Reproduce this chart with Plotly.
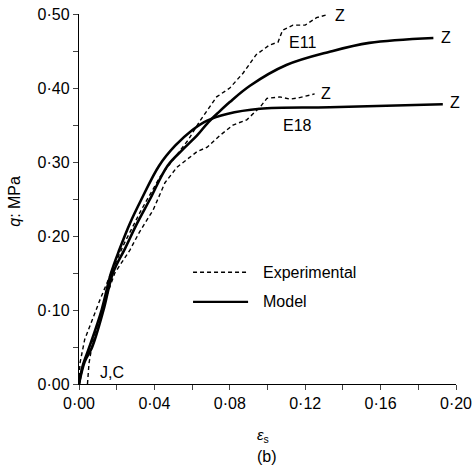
import plotly.graph_objects as go

# Model curves
model_e11_x = [0.0, 0.003, 0.007, 0.013, 0.018, 0.0244, 0.031, 0.0375, 0.047, 0.0555, 0.063, 0.068, 0.074, 0.080, 0.0907, 0.110, 0.133, 0.154, 0.188]
model_e11_y = [0.0, 0.03, 0.05, 0.10, 0.15, 0.183, 0.218, 0.249, 0.295, 0.318, 0.337, 0.352, 0.367, 0.381, 0.403, 0.431, 0.449, 0.461, 0.4676]

model_e18_x = [0.0, 0.002, 0.0055, 0.012, 0.017, 0.0215, 0.027, 0.033, 0.0425, 0.051, 0.060, 0.068, 0.0785, 0.096, 0.133, 0.193]
model_e18_y = [0.0, 0.025, 0.05, 0.10, 0.15, 0.182, 0.217, 0.249, 0.295, 0.322, 0.343, 0.356, 0.365, 0.372, 0.374, 0.378]

# Experimental curves
exp_e11_x = [0.0, 0.0005, 0.003, 0.007, 0.011, 0.017, 0.024, 0.033, 0.043, 0.052, 0.058, 0.064, 0.073, 0.080, 0.087, 0.094, 0.101, 0.1056, 0.108, 0.1135, 0.120, 0.126, 0.1316]
exp_e11_y = [0.0, 0.028, 0.06, 0.087, 0.113, 0.15, 0.19, 0.235, 0.28, 0.31, 0.33, 0.355, 0.388, 0.40, 0.42, 0.445, 0.458, 0.462, 0.478, 0.485, 0.485, 0.495, 0.499]

exp_e18_x = [0.0045, 0.0053, 0.0075, 0.012, 0.019, 0.027, 0.032, 0.0393, 0.0456, 0.052, 0.0626, 0.068, 0.0748, 0.0817, 0.089, 0.096, 0.0997, 0.1066, 0.112, 0.117, 0.125]
exp_e18_y = [0.0, 0.028, 0.06, 0.10, 0.15, 0.181, 0.205, 0.235, 0.272, 0.293, 0.314, 0.32, 0.336, 0.35, 0.357, 0.374, 0.386, 0.388, 0.385, 0.387, 0.392]

x_ticks = [0.0, 0.04, 0.08, 0.12, 0.16, 0.20]
x_ticklabels = ["0·00", "0·04", "0·08", "0·12", "0·16", "0·20"]
y_ticks = [0.0, 0.1, 0.2, 0.3, 0.4, 0.5]
y_ticklabels = ["0·00", "0·10", "0·20", "0·30", "0·40", "0·50"]

FONT = "Liberation Sans, Arial, sans-serif"
FS = 16
dash_style = dict(color="black", width=1.4, dash="4px,3px")
solid_style = dict(color="black", width=2.6)

fig = go.Figure()
for xs, ys in [(exp_e11_x, exp_e11_y), (exp_e18_x, exp_e18_y)]:
    fig.add_trace(go.Scatter(x=xs, y=ys, mode="lines", line=dash_style, line_shape="linear", showlegend=False))
for xs, ys in [(model_e11_x, model_e11_y), (model_e18_x, model_e18_y)]:
    fig.add_trace(go.Scatter(x=xs, y=ys, mode="lines", line=solid_style, line_shape="spline", showlegend=False))

# Legend samples
fig.add_trace(go.Scatter(x=[0.0605, 0.0897], y=[0.151, 0.151], mode="lines", line=dash_style, showlegend=False))
fig.add_trace(go.Scatter(x=[0.0605, 0.0897], y=[0.111, 0.111], mode="lines", line=dict(color="black", width=2.4), showlegend=False))

ann = []
def label(x, y, text, size=FS, xanchor="left"):
    ann.append(dict(x=x, y=y, text=text, showarrow=False, xanchor=xanchor, yanchor="middle",
                    font=dict(family=FONT, size=size, color="black")))

label(0.0963, 0.151, "Experimental")
label(0.0963, 0.111, "Model")
label(0.1345, 0.4986, "Z")
label(0.1912, 0.4676, "Z")
label(0.1275, 0.393, "Z")
label(0.196, 0.380, "Z")
label(0.1183, 0.461, "E11", xanchor="center")
label(0.1157, 0.349, "E18", xanchor="center")
label(0.0103, 0.016, "J,C")

fig.update_layout(
    width=472, height=469,
    margin=dict(l=79, r=16, t=14, b=85),
    paper_bgcolor="white", plot_bgcolor="white",
    font=dict(family=FONT, size=FS, color="black"),
    annotations=ann + [
        dict(x=0.489, y=-0.138, xref="paper", yref="paper", text="<i>ε</i><sub>s</sub>", showarrow=False,
             xanchor="center", yanchor="middle", font=dict(family=FONT, size=15)),
        dict(x=0.499, y=-0.197, xref="paper", yref="paper", text="(b)", showarrow=False,
             xanchor="center", yanchor="middle", font=dict(family=FONT, size=FS)),
        dict(x=-0.17, y=0.495, xref="paper", yref="paper", text="<i>q</i>: MPa", showarrow=False,
             xanchor="center", yanchor="middle", textangle=-90, font=dict(family=FONT, size=FS)),
    ],
)
fig.update_xaxes(range=[0, 0.2], tickvals=x_ticks, ticktext=x_ticklabels, showgrid=False, zeroline=False,
                 automargin=False, ticklabeloverflow="allow",
                 showline=True, linecolor="black", linewidth=1.3, ticks="outside", ticklen=5, tickwidth=1.2,
                 minor=dict(tickvals=[0.02, 0.06, 0.10, 0.14, 0.18], ticks="outside", ticklen=5, tickwidth=1.2),
                 tickfont=dict(family=FONT, size=FS))
fig.update_yaxes(range=[0, 0.5], tickvals=y_ticks, ticktext=y_ticklabels, showgrid=False, zeroline=False,
                 automargin=False, ticklabeloverflow="allow",
                 showline=True, linecolor="black", linewidth=1.3, ticks="outside", ticklen=5, tickwidth=1.2,
                 minor=dict(tickvals=[0.05, 0.15, 0.25, 0.35, 0.45], ticks="outside", ticklen=5, tickwidth=1.2),
                 tickfont=dict(family=FONT, size=FS))

fig.write_html("out.html")
